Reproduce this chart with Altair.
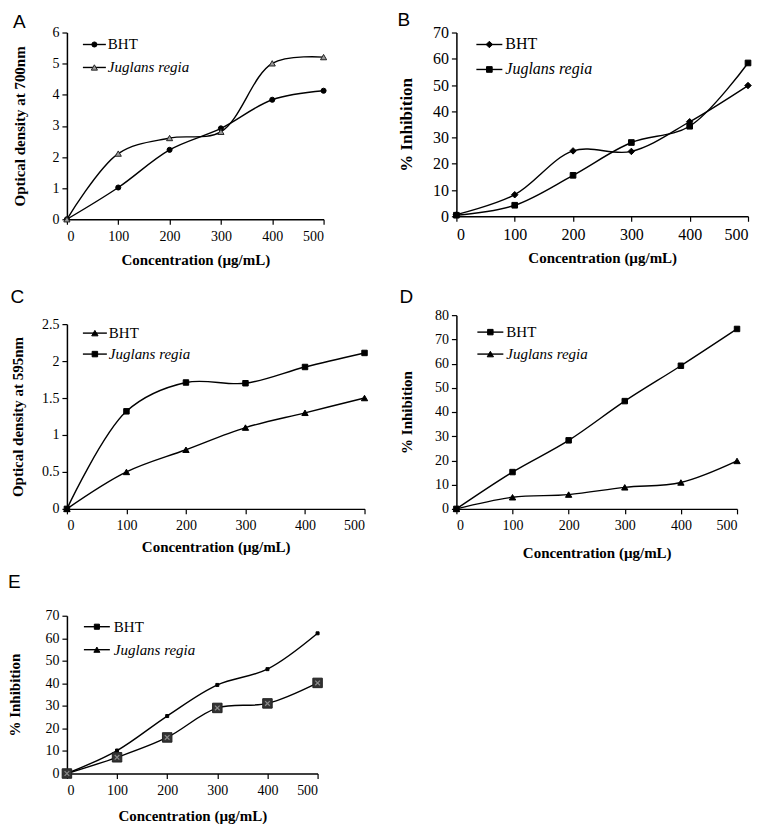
import altair as alt
import pandas as pd

conc = [0, 100, 200, 300, 400, 500]

# Panel A: reducing power (OD 700nm)
a_bht = [0, 1.02, 2.23, 2.92, 3.84, 4.13]
a_jr = [0, 2.11, 2.61, 2.81, 5.01, 5.21]
# Panel B: % inhibition
b_bht = [0.6, 8.2, 24.9, 24.7, 36.0, 49.8]
b_jr = [0.4, 4.2, 15.6, 28.1, 34.3, 58.4]
# Panel C: OD 595nm
c_bht = [0, 0.5, 0.8, 1.1, 1.3, 1.5]
c_jr = [0, 1.32, 1.71, 1.70, 1.92, 2.11]
# Panel D: % inhibition
d_bht = [0, 15.2, 28.3, 44.5, 59.1, 74.3]
d_jr = [0, 4.8, 5.9, 8.9, 10.9, 19.8]
# Panel E: % inhibition
e_bht = [0, 10.2, 25.5, 39.3, 46.3, 62.2]
e_jr = [0, 7.2, 16.0, 29.1, 31.1, 40.2]

a_ticks = [0, 1, 2, 3, 4, 5, 6]
b_ticks = [0, 10, 20, 30, 40, 50, 60, 70]
c_ticks = [0, 0.5, 1, 1.5, 2, 2.5]
d_ticks = [0, 10, 20, 30, 40, 50, 60, 70, 80]
e_ticks = [0, 10, 20, 30, 40, 50, 60, 70]

x_title = "Concentration (µg/mL)"
names = ["BHT", "Juglans regia"]

SERIF = "'Liberation Serif', 'Times New Roman', Times, serif"
SANS = "'Liberation Sans', Arial, Helvetica, sans-serif"


def yscale(ytop, yrange=None):
    if yrange is None:
        return alt.Scale(domain=[0, ytop], nice=False)
    return alt.Scale(domain=[0, ytop], nice=False, range=yrange)


def base_chart(values, ytop, yticks, ytitle, ytp, xtp, ytfs, lfs,
               yrange=None):
    df = pd.DataFrame({"conc": conc, "value": values})
    return alt.Chart(df).encode(
        x=alt.X("conc:Q",
                scale=alt.Scale(domain=[0, 500], nice=False, zero=False),
                axis=alt.Axis(values=conc, title=x_title, titlePadding=xtp,
                              labelPadding=5, format="d", labelOverlap=False,
                              labelFontSize=lfs)),
        y=alt.Y("value:Q",
                scale=yscale(ytop, yrange),
                axis=alt.Axis(values=yticks, title=ytitle, titlePadding=ytp,
                              titleFontSize=ytfs, format="~r",
                              labelOverlap=False, labelFontSize=lfs)),
    )


def series(values, ytop, yticks, ytitle, ytp, xtp, ytfs, lfs, shape, size,
           fill, stroke="black", sw=1.0, yrange=None):
    base = base_chart(values, ytop, yticks, ytitle, ytp, xtp, ytfs, lfs,
                      yrange)
    line = base.mark_line(interpolate="catmull-rom", color="black",
                          strokeWidth=1.4)
    pts = base.mark_point(shape=shape, size=size, filled=True, fill=fill,
                          stroke=stroke, strokeWidth=sw, opacity=1)
    return [line, pts]


def legend(label, italic, shape, size, fill, x0, x1, tx, yy, fs=15,
           stroke="black"):
    d = alt.Data(values=[{"label": label}])
    rule = alt.Chart(d).mark_rule(color="black", strokeWidth=1.4).encode(
        x=alt.value(x0), x2=alt.value(x1), y=alt.value(yy))
    pt = alt.Chart(d).mark_point(shape=shape, size=size, filled=True,
                                 fill=fill, stroke=stroke, strokeWidth=1,
                                 opacity=1).encode(
        x=alt.value((x0 + x1) / 2), y=alt.value(yy))
    txt = alt.Chart(d).mark_text(align="left", baseline="middle", font=SERIF,
                                 fontSize=fs, color="black",
                                 fontStyle="italic" if italic else "normal"
                                 ).encode(
        x=alt.value(tx), y=alt.value(yy), text="label:N")
    return [rule, pt, txt]


def letter(t, off):
    return alt.TitleParams(t, anchor="start", frame="bounds", font=SANS,
                           fontSize=19, fontWeight="normal", color="black",
                           offset=off)


# ---- Panel A
A_layers = (
    series(a_bht, 6, a_ticks, "Optical density at 700nm", 24, 9, 15, 14,
           "circle", 26, "black")
    + series(a_jr, 6, a_ticks, "Optical density at 700nm", 24, 9, 15, 14,
             "triangle-up", 38, "#9a9a9a", "#222222", 1.0)
    + legend(names[0], False, "circle", 26, "black", 16, 39, 41, 12)
    + legend(names[1], True, "triangle-up", 38, "#9a9a9a", 16, 39, 41, 35,
             stroke="#222222")
)
A = alt.layer(*A_layers).properties(width=257, height=187,
                                    title=letter("A", -6))

# ---- Panel B
B_layers = (
    series(b_bht, 70, b_ticks, "% Inhibition", 17, 8, 17, 16,
           "diamond", 42, "black")
    + series(b_jr, 70, b_ticks, "% Inhibition", 17, 8, 17, 16,
             "square", 32, "black")
    + legend(names[0], False, "diamond", 42, "black", 20, 46, 49, 12, 16)
    + legend(names[1], True, "square", 32, "black", 20, 46, 49, 37, 16)
)
B = alt.layer(*B_layers).properties(width=292, height=184,
                                    title=letter("B", -5))

# ---- Panel C (plot area starts 9px below the cell top, as in the figure)
C_H = 194
C_TOP = 9
C_layers = (
    series(c_bht, 2.5, c_ticks, "Optical density at 595nm", 16, 7, 15, 14,
           "triangle-up", 40, "black", yrange=[C_H, C_TOP])
    + series(c_jr, 2.5, c_ticks, "Optical density at 595nm", 16, 7, 15, 14,
             "square", 30, "black", yrange=[C_H, C_TOP])
    + legend(names[0], False, "triangle-up", 40, "black", 16, 40, 42,
             C_TOP + 9)
    + legend(names[1], True, "square", 30, "black", 16, 40, 42, C_TOP + 30)
)
C = alt.layer(*C_layers).properties(width=298, height=C_H,
                                    title=letter("C", 8))

# ---- Panel D
D_layers = (
    series(d_bht, 80, d_ticks, "% Inhibition", 20, 13, 15, 14,
           "square", 30, "black")
    + series(d_jr, 80, d_ticks, "% Inhibition", 20, 13, 15, 14,
             "triangle-up", 40, "black")
    + legend(names[0], False, "square", 30, "black", 21, 47, 50, 17)
    + legend(names[1], True, "triangle-up", 40, "black", 21, 47, 50, 39)
)
D = alt.layer(*D_layers).properties(width=281, height=194,
                                    title=letter("D", 1))

# ---- Panel E (plot area starts 11px below the cell top)
E_H = 169
E_TOP = 11
xmark = "M-0.6,-0.6L0.6,0.6M-0.6,0.6L0.6,-0.6"
E_layers = (
    series(e_bht, 70, e_ticks, "% Inhibition", 22, 11, 15, 14,
           "square", 9, "black", yrange=[E_H, E_TOP])
    + series(e_jr, 70, e_ticks, "% Inhibition", 22, 11, 15, 14,
             "square", 90, "#333333", "#222222", 1.0, yrange=[E_H, E_TOP])
    + [base_chart(e_jr, 70, e_ticks, "% Inhibition", 22, 11, 15, 14,
                  yrange=[E_H, E_TOP]).mark_point(
        shape=xmark, size=60, filled=False, stroke="#8a8a8a",
        strokeWidth=1.2, opacity=1)]
    + legend(names[0], False, "square", 26, "black", 17, 43, 47, E_TOP + 11)
    + legend(names[1], True, "triangle-up", 36, "black", 17, 43, 47,
             E_TOP + 34)
)
E = alt.layer(*E_layers).properties(width=251, height=E_H,
                                    title=letter("E", 13))

chart = alt.concat(
    A, B, C, D, E, columns=2,
    spacing={"row": 96, "column": 92},
    bounds="flush", align="each",
).properties(
    padding={"left": 0, "top": 2, "right": 0, "bottom": 0}
).configure_view(stroke=None).configure_axis(
    grid=False, labelOverlap=False,
    domainColor="black", domainWidth=1.5,
    tickColor="black", tickSize=5, tickWidth=1.2,
    labelFont=SERIF, labelFontSize=14, labelColor="black",
    titleFont=SERIF, titleFontSize=15, titleFontWeight="bold",
    titleColor="black", labelPadding=3,
)

chart.save("out.html", embed_options={"renderer": "svg", "actions": False})
